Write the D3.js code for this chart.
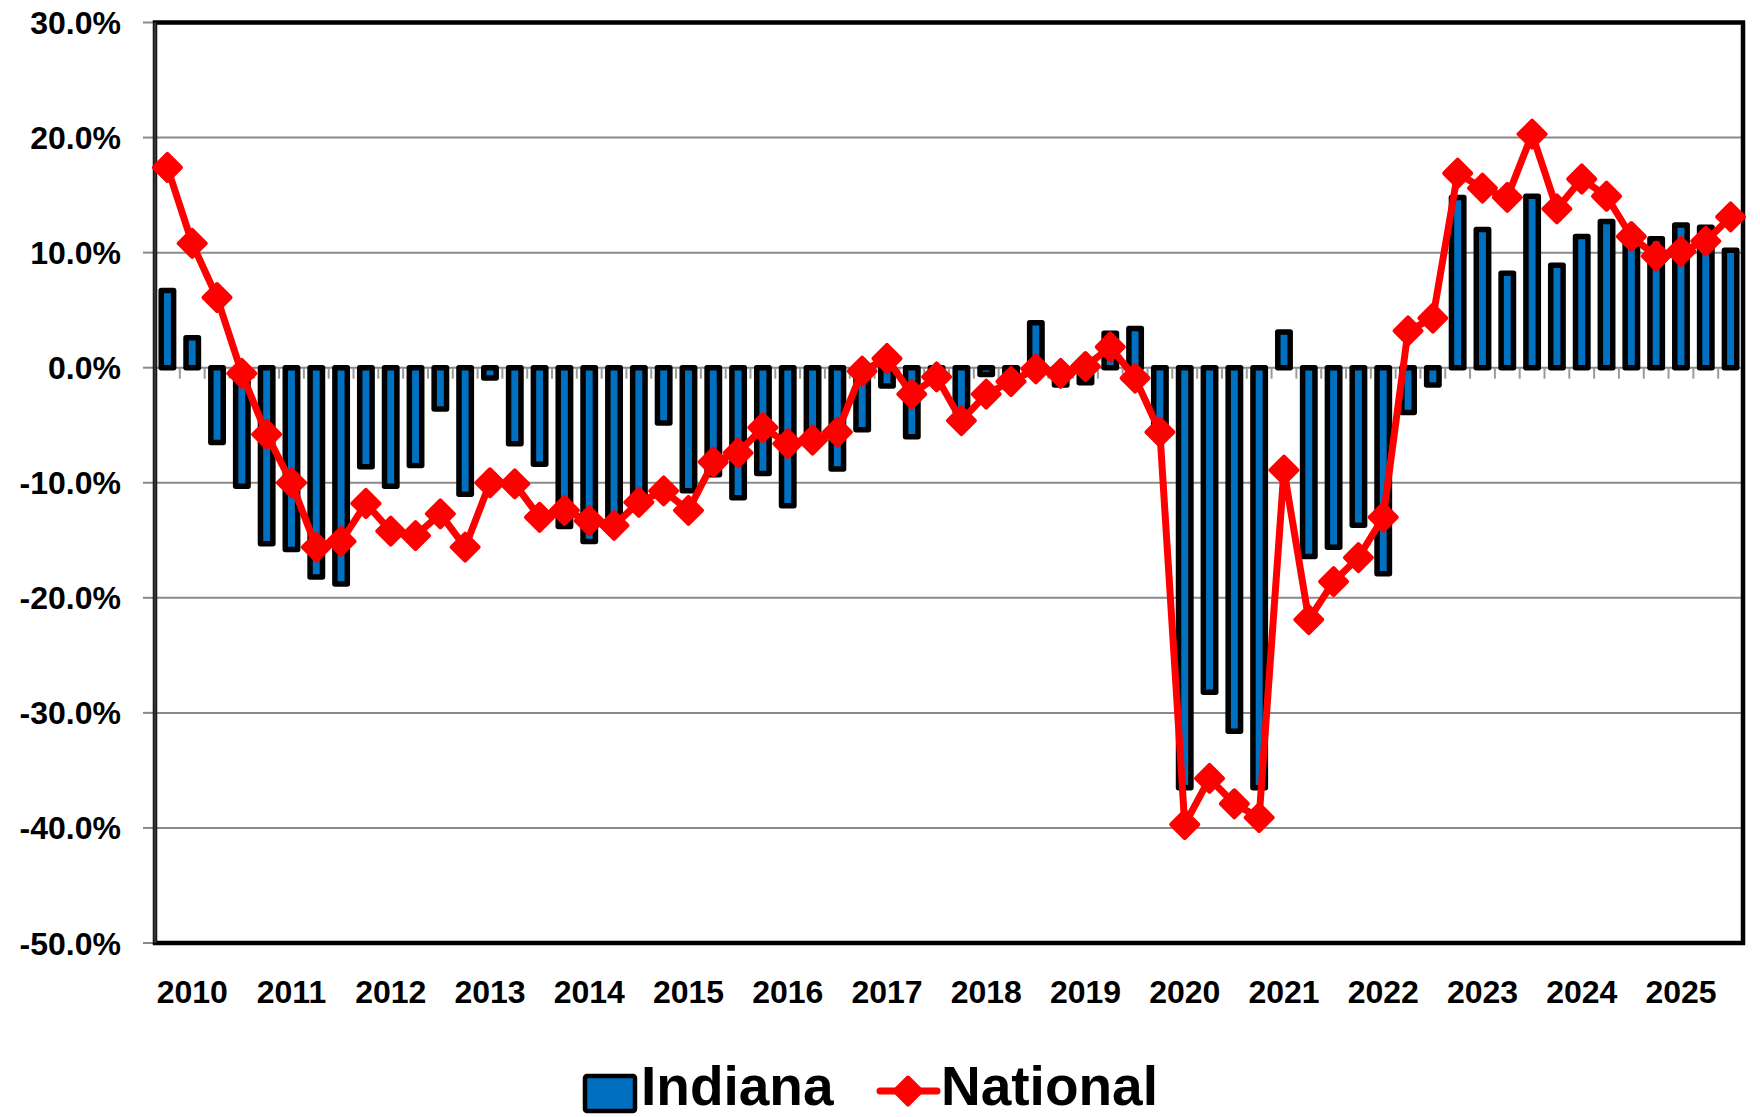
<!DOCTYPE html>
<html>
<head>
<meta charset="utf-8">
<script src="https://cdn.jsdelivr.net/npm/d3@7"></script>
<style>
  body { margin: 0; background: #fff; }
  text { font-family: "Liberation Sans", Arial, sans-serif; font-weight: bold; fill: #000; }
</style>
</head>
<body>
<div id="chart"></div>
<script>
// year labels on the category axis (one per 4 quarters)
const years = ["2010","2011","2012","2013","2014","2015","2016","2017",
               "2018","2019","2020","2021","2022","2023","2024","2025"];

// quarterly % change, 2010 Q1 .. 2025 Q4
const indiana = [
   6.7,   2.6,  -6.5, -10.3, -15.3, -15.8, -18.2, -18.8,
  -8.6, -10.3,  -8.5,  -3.6, -11.0,  -0.9,  -6.6,  -8.4,
 -13.8, -15.1, -13.6, -11.3,  -4.8, -10.7,  -9.3, -11.3,
  -9.2, -12.0,  -6.3,  -8.8,  -5.4,  -1.6,  -6.0,  -1.0,
  -3.8,  -0.6,  -0.8,   3.9,  -1.5,  -1.3,   3.0,   3.4,
  -5.4, -36.5, -28.2, -31.6, -36.5,   3.1, -16.4, -15.6,
 -13.7, -17.9,  -3.9,  -1.5,  14.8,  12.0,   8.2,  14.9,
   8.9,  11.4,  12.7,  11.2,  11.2,  12.4,  12.2,  10.2
];

const national = [
  17.4,  10.8,   6.1,  -0.5,  -5.8, -10.0, -15.6, -15.1,
 -11.8, -14.2, -14.6, -12.7, -15.6, -10.0, -10.1, -13.0,
 -12.4, -13.3, -13.7, -11.7, -10.7, -12.4,  -8.2,  -7.4,
  -5.2,  -6.6,  -6.3,  -5.6,  -0.3,   0.8,  -2.3,  -0.8,
  -4.6,  -2.3,  -1.2,  -0.1,  -0.5,   0.1,   1.8,  -0.9,
  -5.6, -39.7, -35.7, -37.9, -39.1,  -8.9, -21.9, -18.6,
 -16.5, -13.0,   3.2,   4.3,  16.9,  15.6,  14.8,  20.3,
  13.8,  16.4,  14.9,  11.4,   9.7,  10.1,  11.0,  13.1
];

const yTicks = [30, 20, 10, 0, -10, -20, -30, -40, -50];

const quarters = [];
years.forEach(y => { ["Q1","Q2","Q3","Q4"].forEach(q => quarters.push(y + q)); });

const W = 1760, H = 1117;
const plotL = 155, plotR = 1743, plotT = 22.5, plotB = 943;

const svg = d3.select("#chart").append("svg")
  .attr("width", W)
  .attr("height", H);

const x = d3.scaleBand()
  .domain(quarters)
  .range([plotL, plotR])
  .paddingInner(0.5)
  .paddingOuter(0.25);

const y = d3.scaleLinear()
  .domain([-50, 30])
  .range([plotB, plotT]);

const cx = q => x(q) + x.bandwidth() / 2;

// gridlines
svg.append("g")
  .selectAll("line")
  .data(yTicks)
  .enter()
  .append("line")
  .attr("x1", plotL)
  .attr("x2", plotR)
  .attr("y1", d => y(d))
  .attr("y2", d => y(d))
  .attr("stroke", "#8a8a8a")
  .attr("stroke-width", 2);

// left axis tick marks + labels
const yAxis = svg.append("g");
yAxis.selectAll("line")
  .data(yTicks)
  .enter()
  .append("line")
  .attr("x1", plotL - 12)
  .attr("x2", plotL)
  .attr("y1", d => y(d))
  .attr("y2", d => y(d))
  .attr("stroke", "#8a8a8a")
  .attr("stroke-width", 2);
yAxis.selectAll("text")
  .data(yTicks)
  .enter()
  .append("text")
  .attr("x", 121)
  .attr("y", d => y(d))
  .attr("dy", "0.36em")
  .attr("text-anchor", "end")
  .style("font-size", "32px")
  .text(d => d.toFixed(1) + "%");

// category ticks hanging from the 0% line
const step = x.step();
svg.append("g")
  .selectAll("line")
  .data(quarters.slice(1))
  .enter()
  .append("line")
  .attr("x1", d => x(d) - step * 0.25)
  .attr("x2", d => x(d) - step * 0.25)
  .attr("y1", y(0))
  .attr("y2", y(0) + 11)
  .attr("stroke", "#9a9a9a")
  .attr("stroke-width", 2);

// Indiana bars
svg.append("g")
  .selectAll("rect")
  .data(indiana)
  .enter()
  .append("rect")
  .attr("x", (d, i) => x(quarters[i]))
  .attr("width", x.bandwidth())
  .attr("y", d => y(Math.max(0, d)))
  .attr("height", d => Math.abs(y(d) - y(0)))
  .attr("fill", "#0070C0")
  .attr("stroke", "#000")
  .attr("stroke-width", 5.5)
  .attr("stroke-linejoin", "round");

// plot border
svg.append("rect")
  .attr("x", plotL)
  .attr("y", plotT)
  .attr("width", plotR - plotL)
  .attr("height", plotB - plotT)
  .attr("fill", "none")
  .attr("stroke", "#000")
  .attr("stroke-width", 4.5);
svg.append("line")
  .attr("x1", plotL).attr("x2", plotL)
  .attr("y1", plotT).attr("y2", plotB)
  .attr("stroke", "#333")
  .attr("stroke-width", 3);

// National line
const line = d3.line()
  .x((d, i) => cx(quarters[i]))
  .y(d => y(d));

svg.append("path")
  .datum(national)
  .attr("d", line)
  .attr("fill", "none")
  .attr("stroke", "#FF0000")
  .attr("stroke-width", 7)
  .attr("stroke-linejoin", "round");

const diamond = h => `M0,${-h}L${h},0L0,${h}L${-h},0Z`;

svg.append("g")
  .selectAll("path")
  .data(national)
  .enter()
  .append("path")
  .attr("transform", (d, i) => `translate(${cx(quarters[i])},${y(d)})`)
  .attr("d", diamond(13.5))
  .attr("fill", "#FF0000")
  .attr("stroke", "#FF0000")
  .attr("stroke-width", 4)
  .attr("stroke-linejoin", "round");

// year labels under Q2 of each year
svg.append("g")
  .selectAll("text")
  .data(years)
  .enter()
  .append("text")
  .attr("x", (d, i) => cx(quarters[i * 4 + 1]))
  .attr("y", 1003)
  .attr("text-anchor", "middle")
  .style("font-size", "32px")
  .text(d => d);

// legend
const legend = svg.append("g");
legend.append("rect")
  .attr("x", 585)
  .attr("y", 1076)
  .attr("width", 50)
  .attr("height", 35)
  .attr("rx", 2)
  .attr("fill", "#0070C0")
  .attr("stroke", "#000")
  .attr("stroke-width", 4.5);
legend.append("text")
  .attr("x", 641)
  .attr("y", 1105)
  .style("font-size", "55px")
  .text("Indiana");

legend.append("line")
  .attr("x1", 880)
  .attr("x2", 937)
  .attr("y1", 1091)
  .attr("y2", 1091)
  .attr("stroke", "#FF0000")
  .attr("stroke-width", 7)
  .attr("stroke-linecap", "round");
legend.append("path")
  .attr("transform", "translate(908,1091)")
  .attr("d", diamond(13.5))
  .attr("fill", "#FF0000")
  .attr("stroke", "#FF0000")
  .attr("stroke-width", 4)
  .attr("stroke-linejoin", "round");
legend.append("text")
  .attr("x", 941)
  .attr("y", 1105)
  .style("font-size", "55px")
  .text("National");
</script>
</body>
</html>
